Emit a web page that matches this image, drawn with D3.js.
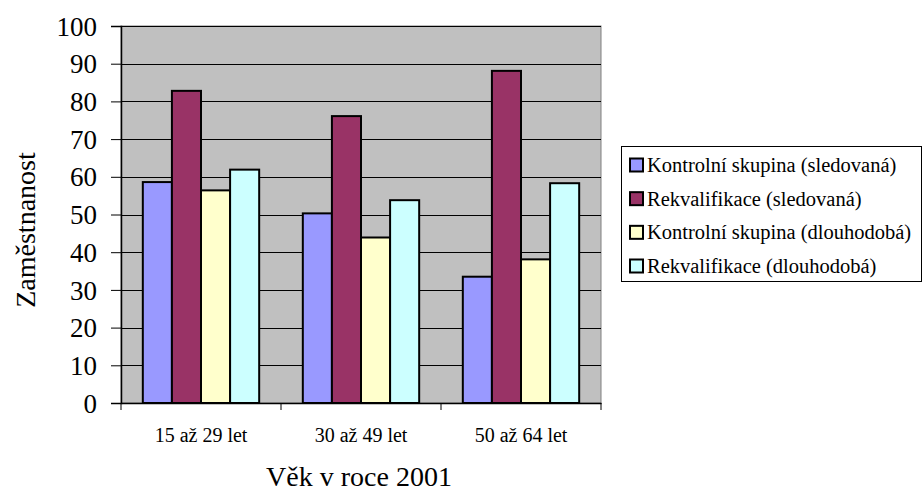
<!DOCTYPE html>
<html><head><meta charset="utf-8">
<script src="https://cdn.jsdelivr.net/npm/d3@7"></script>
<style>body{margin:0;background:#fff;}svg text{font-family:"Liberation Serif",serif;}</style>
</head><body><svg width="922" height="494"></svg>
<script>
const categories = ["15 až 29 let", "30 až 49 let", "50 až 64 let"];
const seriesNames = ["Kontrolní skupina (sledovaná)", "Rekvalifikace (sledovaná)", "Kontrolní skupina (dlouhodobá)", "Rekvalifikace (dlouhodobá)"];
const kontrolniSledovana = [58.6, 50.3, 33.5];
const rekvalifikaceSledovana = [82.8, 76.1, 88.1];
const kontrolniDlouhodoba = [56.4, 43.9, 38.1];
const rekvalifikaceDlouhodoba = [61.9, 53.8, 58.3];
const yTicks = [0,10,20,30,40,50,60,70,80,90,100];
const colors = ["#9999FF", "#993366", "#FFFFCC", "#CCFFFF"];
const seriesValues = [kontrolniSledovana, rekvalifikaceSledovana, kontrolniDlouhodoba, rekvalifikaceDlouhodoba];
const FONT = "Liberation Serif";

const svg = d3.select("svg");
const L = 121, R = 601, T = 26, B = 403;
const x = d3.scaleBand().domain(categories).range([L, R]).padding(0);
const xi = d3.scaleBand().domain(d3.range(4)).range([0, x.bandwidth()]).paddingInner(0).paddingOuter(0.75);
const y = d3.scaleLinear().domain([0, 100]).range([B, T]);

// plot area
svg.append("rect").attr("x", L).attr("y", T).attr("width", R - L).attr("height", B - T)
  .attr("fill", "#C0C0C0").attr("stroke", "#808080").attr("stroke-width", 1);

// gridlines
svg.append("g").selectAll("line").data(yTicks.filter(d => d > 0)).join("line")
  .attr("x1", L).attr("x2", R).attr("y1", d => Math.round(y(d)) + 0.5).attr("y2", d => Math.round(y(d)) + 0.5)
  .attr("stroke", "#000").attr("stroke-width", 1);

// bars
seriesValues.forEach((vals, s) => {
  svg.append("g").selectAll("rect").data(vals).join("rect")
    .attr("x", (d, i) => x(categories[i]) + xi(s))
    .attr("y", d => y(d))
    .attr("width", xi.bandwidth())
    .attr("height", d => B - y(d))
    .attr("fill", colors[s]).attr("stroke", "#000").attr("stroke-width", 2);
});

// y axis
const yAxis = d3.axisLeft(y).tickValues(yTicks).tickSize(10).tickPadding(14);
const gy = svg.append("g").attr("transform", `translate(${L},0)`).call(yAxis).attr("font-family", FONT);
gy.select(".domain").attr("stroke", "#000").attr("stroke-width", 1.5);
gy.selectAll(".tick line").attr("stroke", "#000");
gy.selectAll("text").attr("font-family", FONT).attr("font-size", 27).attr("fill", "#000").attr("dy", "0.34em");

// x axis
const xAxis = d3.axisBottom(x).tickSize(0).tickPadding(0);
const gx = svg.append("g").attr("transform", `translate(0,${B})`).call(xAxis).attr("font-family", FONT);
gx.select(".domain").attr("stroke", "#000").attr("stroke-width", 1.5);
gx.selectAll("text").attr("font-family", FONT).attr("font-size", 20).attr("fill", "#000").attr("y", 39).attr("dy", 0);
const bounds = [L, ...categories.map(c => x(c) + x.bandwidth())];
svg.append("g").selectAll("line").data(bounds).join("line")
  .attr("x1", d => d).attr("x2", d => d).attr("y1", B).attr("y2", B + 7).attr("stroke", "#000");

// axis titles
svg.append("text").attr("x", 359).attr("y", 486).attr("text-anchor", "middle")
  .attr("font-family", FONT).attr("font-size", 28).text("Věk v roce 2001");
svg.append("text").attr("transform", "translate(35,230) rotate(-90)").attr("text-anchor", "middle")
  .attr("font-family", FONT).attr("font-size", 28).text("Zaměstnanost");

// legend
const lg = svg.append("g");
lg.append("rect").attr("x", 621.5).attr("y", 146.5).attr("width", 300).attr("height", 135)
  .attr("fill", "#fff").attr("stroke", "#000").attr("stroke-width", 1);
const rowY = d3.scalePoint().domain(seriesNames).range([165, 266]);
seriesNames.forEach((n, s) => {
  const cy = rowY(n);
  lg.append("rect").attr("x", 630).attr("y", cy - 6.5).attr("width", 13).attr("height", 13)
    .attr("fill", colors[s]).attr("stroke", "#000").attr("stroke-width", 2);
  lg.append("text").attr("x", 647).attr("y", cy + 7).attr("font-family", FONT).attr("font-size", 20.5).text(n);
});
</script></body></html>
